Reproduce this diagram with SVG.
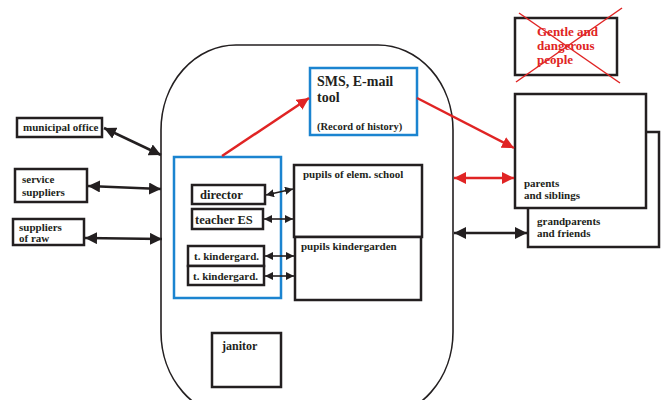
<svg xmlns="http://www.w3.org/2000/svg" width="661" height="400" viewBox="0 0 661 400">
<style>
text{font-family:"Liberation Serif","Times New Roman",serif;font-weight:bold;fill:#231f20}
.box{fill:#fff;stroke:#231f20;stroke-width:2.5}
.blue{fill:#fff;stroke:#1b84d0;stroke-width:2.5}
.bl{stroke:#231f20;stroke-width:2.5;fill:none}
.bs{stroke:#231f20;stroke-width:1.6;fill:none}
.rd{stroke:#e02424;stroke-width:2.5;fill:none}
.rt{fill:#e02424}
</style>
<defs>
<marker id="ab" viewBox="0 0 10 10" refX="10" refY="5" markerWidth="12" markerHeight="12" markerUnits="userSpaceOnUse" orient="auto-start-reverse"><path d="M0,0L10,5L0,10z" fill="#231f20"/></marker>
<marker id="as" viewBox="0 0 10 10" refX="10" refY="5" markerWidth="8" markerHeight="8" markerUnits="userSpaceOnUse" orient="auto-start-reverse"><path d="M0,0L10,5L0,10z" fill="#231f20"/></marker>
<marker id="ar" viewBox="0 0 10 10" refX="10" refY="5" markerWidth="12" markerHeight="12" markerUnits="userSpaceOnUse" orient="auto-start-reverse"><path d="M0,0L10,5L0,10z" fill="#e02424"/></marker>
</defs>
<g id="school"><rect x="161" y="45" width="292" height="372" rx="75" ry="85" fill="#fff" stroke="#231f20" stroke-width="1.6"/></g>
<g id="municipal"><rect class="box" x="17" y="118" width="85" height="19"/><text x="23" y="131" font-size="11">municipal office</text></g>
<g id="service"><rect class="box" x="15" y="169" width="72" height="33"/><text x="22" y="183" font-size="11">service</text><text x="22" y="196" font-size="11">suppliers</text></g>
<g id="raw"><rect class="box" x="13" y="219" width="71" height="26"/><text x="19" y="231" font-size="11">suppliers</text><text x="19" y="242" font-size="11">of raw</text></g>
<g id="staff"><rect class="blue" x="174" y="157" width="107" height="141"/></g>
<g id="director"><rect class="box" x="192" y="185" width="73" height="19"/><text x="200" y="199" font-size="12.5">director</text></g>
<g id="teacher"><rect class="box" x="192" y="209" width="71" height="20"/><text x="195" y="224" font-size="12.5">teacher ES</text></g>
<g id="tk1"><rect class="box" x="188" y="246" width="76" height="20"/><text x="194" y="260" font-size="11">t. kindergard.</text></g>
<g id="tk2"><rect class="box" x="188" y="266" width="76" height="19"/><text x="193" y="280" font-size="11">t. kindergard.</text></g>
<g id="pupilsES"><rect class="box" x="294" y="165" width="128" height="72"/><text x="303" y="178" font-size="11">pupils of elem. school</text></g>
<g id="pupilsKG"><rect class="box" x="295" y="237" width="126" height="63"/><text x="301" y="250" font-size="11">pupils kindergarden</text></g>
<g id="sms"><rect class="blue" x="310" y="68" width="107" height="67"/><text x="317" y="86" font-size="14">SMS, E-mail</text><text x="317" y="102" font-size="14">tool</text><text x="317" y="130" font-size="10.5">(Record of history)</text></g>
<g id="janitor"><rect class="box" x="212" y="333" width="69" height="54"/><text x="222" y="350" font-size="12">janitor</text></g>
<g id="gentle"><rect class="box" x="515" y="18" width="102" height="57"/><text class="rt" x="537" y="36" font-size="13" style="fill:#e02424">Gentle and</text><text x="537" y="50" font-size="13" style="fill:#e02424">dangerous</text><text x="537" y="64" font-size="13" style="fill:#e02424">people</text><line class="rd" style="stroke-width:1.5" x1="519" y1="13" x2="620" y2="83"/><line class="rd" style="stroke-width:1.5" x1="622" y1="8" x2="516" y2="82"/></g>
<g id="grandparents"><rect class="box" x="528" y="132" width="131" height="115"/><text x="537" y="225" font-size="11">grandparents</text><text x="537" y="237" font-size="11">and friends</text></g>
<g id="parents"><rect class="box" x="515" y="94" width="131" height="114"/><text x="524" y="187" font-size="11">parents</text><text x="524" y="199" font-size="11">and siblings</text></g>
<g id="connectors">
<line class="bl" x1="104" y1="128" x2="161" y2="155" marker-start="url(#ab)" marker-end="url(#ab)"/>
<line class="bl" x1="88" y1="186" x2="161" y2="189" marker-start="url(#ab)" marker-end="url(#ab)"/>
<line class="bl" x1="85" y1="238" x2="162" y2="239" marker-start="url(#ab)" marker-end="url(#ab)"/>
<line class="bs" x1="266" y1="195" x2="293" y2="189" marker-start="url(#as)" marker-end="url(#as)"/>
<line class="bs" x1="264" y1="219" x2="293" y2="219" marker-start="url(#as)" marker-end="url(#as)"/>
<line class="bs" x1="265" y1="256" x2="294" y2="256" marker-start="url(#as)" marker-end="url(#as)"/>
<line class="bs" x1="265" y1="276" x2="294" y2="276" marker-start="url(#as)" marker-end="url(#as)"/>
<line class="rd" x1="222" y1="156" x2="309" y2="98" marker-end="url(#ar)"/>
<line class="rd" x1="417" y1="98" x2="514" y2="148" marker-end="url(#ar)"/>
<line class="rd" x1="454" y1="178" x2="514" y2="178" marker-start="url(#ar)" marker-end="url(#ar)"/>
<line class="bl" x1="454" y1="233" x2="527" y2="233" marker-start="url(#ab)" marker-end="url(#ab)"/>
</g>
</svg>
